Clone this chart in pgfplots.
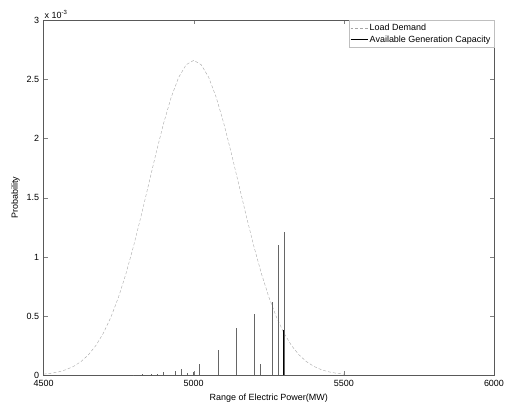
\documentclass[border=0pt]{standalone}
\usepackage{fontspec}
\setmainfont{Liberation Sans}
\usepackage{pgfplots}
\pgfplotsset{compat=1.18}
\begin{document}
\begin{tikzpicture}
\begin{axis}[
    scale only axis,
    width=450bp, height=355bp,
    xmin=4500, xmax=6000, ymin=0, ymax=3,
    xtick={4500,5000,5500,6000},
    xticklabels={4500,5000,5500,6000},
    ytick={0,0.5,1,1.5,2,2.5,3},
    yticklabels={0,0.5,1,1.5,2,2.5,3},
    xticklabel style={yshift=-1.5bp},
    yticklabel style={xshift=-1bp},
    tick align=inside, tick pos=both, major tick length=4bp,
    axis line style={black!65},
    font=\fontsize{9}{11}\selectfont,
    xlabel={Range of Electric Power(MW)},
    ylabel={Probability},
    legend style={at={(1,1)}, anchor=north east, draw=gray!50,
        font=\fontsize{9}{11}\selectfont, inner sep=1.5pt},
    legend cell align=left,
]
% load demand distribution
\addplot[gray!70, densely dashed, thin] coordinates {
    (4500,0.0103) (4525,0.0177) (4550,0.0296) (4575,0.0480) (4600,0.0760)
    (4625,0.1168) (4650,0.1748) (4675,0.2543) (4700,0.3599) (4725,0.4953)
    (4750,0.6633) (4775,0.8635) (4800,1.0934) (4825,1.3466) (4850,1.6131)
    (4875,1.8793) (4900,2.1297) (4925,2.3471) (4950,2.5160) (4975,2.6229)
    (5000,2.6596) (5025,2.6229) (5050,2.5160) (5075,2.3471) (5100,2.1297)
    (5125,1.8793) (5150,1.6131) (5175,1.3466) (5200,1.0934) (5225,0.8635)
    (5250,0.6633) (5275,0.4953) (5300,0.3599) (5325,0.2543) (5350,0.1748)
    (5375,0.1168) (5400,0.0760) (5425,0.0480) (5450,0.0296) (5475,0.0177)
    (5500,0.0103)
};
\addlegendentry{Load Demand}
% available generation capacity
\addplot[ycomb, black!60, thin, mark=none,
    legend image code/.code={\draw[black] (0cm,0cm) -- (0.6cm,0cm);}] coordinates {
    (4800,0.005) (4830,0.008) (4860,0.010) (4880,0.015) (4900,0.030)
    (4940,0.040) (4960,0.050) (4980,0.020) (5000,0.030) (5020,0.100)
    (5080,0.210) (5140,0.400) (5200,0.520) (5220,0.100) (5260,0.620)
    (5280,1.100) (5300,1.210)
};
\addlegendentry{Available Generation Capacity}
\addplot[ycomb, black, line width=1.4pt, mark=none, forget plot] coordinates {
    (5300,0.38)
};
\end{axis}
\node[anchor=south west, inner sep=1pt, font=\fontsize{9}{11}\selectfont]
    at (current axis.north west) {x 10\textsuperscript{-3}};
\path ([shift={(-43.5bp,-30bp)}]current axis.south west)
    rectangle ([shift={(22bp,20bp)}]current axis.north east);
\end{tikzpicture}
\end{document}
